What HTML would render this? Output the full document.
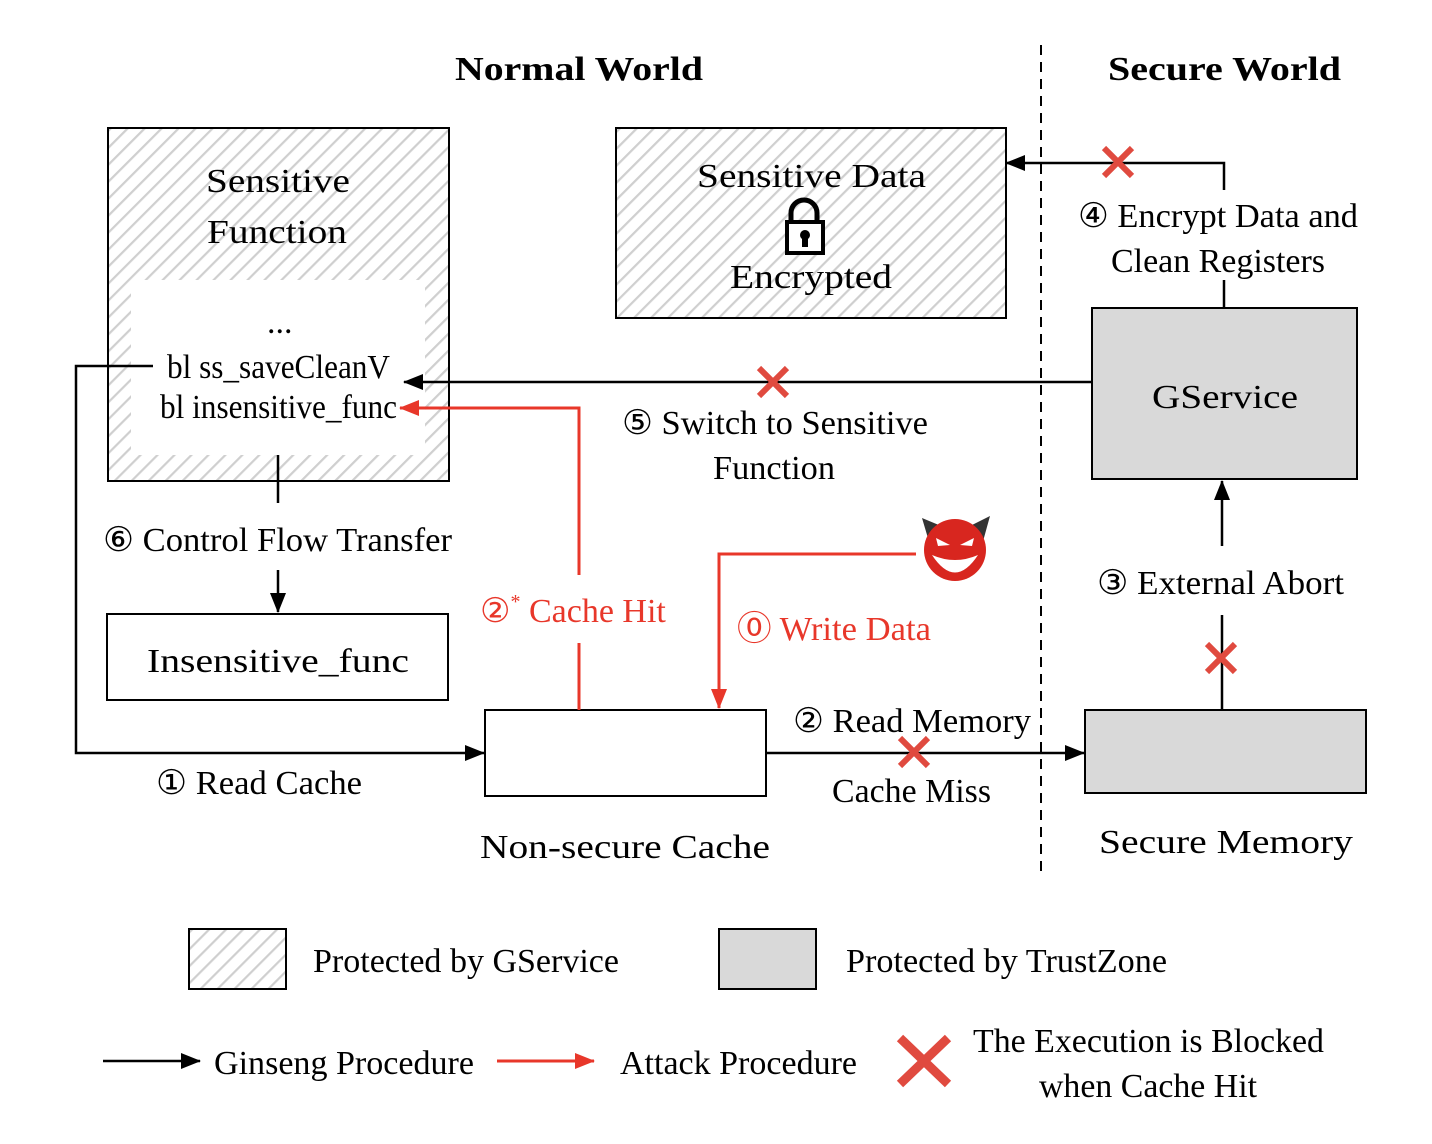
<!DOCTYPE html>
<html><head><meta charset="utf-8"><style>body{margin:0;background:#fff}svg{display:block}text{font-family:"Liberation Serif","DejaVu Serif",serif;font-size:34px}</style></head><body>
<svg width="1432" height="1144" viewBox="0 0 1432 1144" xmlns="http://www.w3.org/2000/svg">
<defs>
<pattern id="h" width="12" height="12" patternUnits="userSpaceOnUse" patternTransform="rotate(45)">
<rect width="12" height="12" fill="#fff"/><rect x="0" y="0" width="2.2" height="12" fill="#cfcfcf"/></pattern>
<marker id="abig" markerWidth="20" markerHeight="20" refX="19" refY="10" orient="auto" markerUnits="userSpaceOnUse" viewBox="0 0 20 20"><path d="M0,2 L20,10 L0,18z" fill="#000"/></marker>
<marker id="arbig" markerWidth="20" markerHeight="20" refX="19" refY="10" orient="auto" markerUnits="userSpaceOnUse" viewBox="0 0 20 20"><path d="M0,2 L20,10 L0,18z" fill="#e8372a"/></marker>
<g id="x"><path d="M-14,-14 L14,14 M14,-14 L-14,14" stroke="#e04a3f" stroke-width="6"/></g>
</defs>
<g lengthAdjust="spacingAndGlyphs">
<text x="455" y="80" font-weight="bold" font-size="40" textLength="248" lengthAdjust="spacingAndGlyphs">Normal World</text>
<text x="1108" y="80" font-weight="bold" font-size="40" textLength="233" lengthAdjust="spacingAndGlyphs">Secure World</text>
</g>
<line x1="1041" y1="45" x2="1041" y2="872" stroke="#000" stroke-width="2" stroke-dasharray="10,7"/>

<rect x="108" y="128" width="341" height="353" fill="url(#h)" stroke="#000" stroke-width="2"/>
<rect x="131" y="280" width="294" height="175" fill="#fff"/>
<text x="206" y="192" font-size="42" textLength="144" lengthAdjust="spacingAndGlyphs">Sensitive</text>
<text x="207" y="243" font-size="42" textLength="140" lengthAdjust="spacingAndGlyphs">Function</text>
<text x="267" y="333" font-size="28">...</text>
<text x="167" y="378" font-size="32" textLength="223" lengthAdjust="spacingAndGlyphs">bl ss_saveCleanV</text>
<text x="160" y="418" font-size="32" textLength="237" lengthAdjust="spacingAndGlyphs">bl insensitive_func</text>

<rect x="616" y="128" width="390" height="190" fill="url(#h)" stroke="#000" stroke-width="2"/>
<text x="697" y="187" font-size="42" textLength="229" lengthAdjust="spacingAndGlyphs">Sensitive Data</text>
<path d="M791,222 v-9 a13,13 0 0 1 26,0 v9" fill="none" stroke="#000" stroke-width="5"/>
<rect x="785" y="220" width="40" height="35" fill="#000"/>
<rect x="789" y="224" width="32" height="27" fill="#fff"/>
<circle cx="805" cy="235" r="5" fill="#000"/><rect x="802" y="236" width="6" height="11" fill="#000"/>
<text x="730" y="288" font-size="42" textLength="162" lengthAdjust="spacingAndGlyphs">Encrypted</text>

<rect x="1092" y="308" width="265" height="171" fill="#d9d9d9" stroke="#000" stroke-width="2"/>
<text x="1152" y="408" font-size="44" textLength="146" lengthAdjust="spacingAndGlyphs">GService</text>
<text x="1078" y="227" textLength="280" lengthAdjust="spacingAndGlyphs">④ Encrypt Data and</text>
<text x="1111" y="272" textLength="214" lengthAdjust="spacingAndGlyphs">Clean Registers</text>
<polyline points="1224,308 1224,280" fill="none" stroke="#000" stroke-width="2.5"/>
<polyline points="1224,190 1224,163 1006,163" fill="none" stroke="#000" stroke-width="2.5" marker-end="url(#abig)"/>
<use href="#x" x="1118" y="162"/>

<line x1="1092" y1="382" x2="404" y2="382" stroke="#000" stroke-width="2.5" marker-end="url(#abig)"/>
<use href="#x" x="773" y="382"/>
<text x="622" y="434" textLength="306" lengthAdjust="spacingAndGlyphs">⑤ Switch to Sensitive</text>
<text x="713" y="479" textLength="122" lengthAdjust="spacingAndGlyphs">Function</text>

<line x1="278" y1="455" x2="278" y2="503" stroke="#000" stroke-width="2.5"/>
<text x="103" y="551" textLength="349" lengthAdjust="spacingAndGlyphs">⑥ Control Flow Transfer</text>
<line x1="278" y1="570" x2="278" y2="612" stroke="#000" stroke-width="2.5" marker-end="url(#abig)"/>
<rect x="107" y="614" width="341" height="86" fill="#fff" stroke="#000" stroke-width="2"/>
<text x="147" y="672" font-size="44" textLength="262" lengthAdjust="spacingAndGlyphs">Insensitive_func</text>

<polyline points="153,366 76,366 76,753 484,753" fill="none" stroke="#000" stroke-width="2.5" marker-end="url(#abig)"/>
<text x="156" y="794" textLength="206" lengthAdjust="spacingAndGlyphs">① Read Cache</text>

<rect x="485" y="710" width="281" height="86" fill="#fff" stroke="#000" stroke-width="2"/>
<text x="480" y="858" font-size="44" textLength="290" lengthAdjust="spacingAndGlyphs">Non-secure Cache</text>

<polyline points="579,710 579,643" fill="none" stroke="#e8372a" stroke-width="3"/>
<polyline points="579,575 579,408 400,408" fill="none" stroke="#e8372a" stroke-width="3" marker-end="url(#arbig)"/>
<text x="480" y="622" fill="#e8372a">②<tspan font-size="20" dy="-14">*</tspan><tspan dy="14"> Cache Hit</tspan></text>

<polyline points="916,554 719,554 719,708" fill="none" stroke="#e8372a" stroke-width="3" marker-end="url(#arbig)"/>
<text x="737" y="640" fill="#e8372a" textLength="194" lengthAdjust="spacingAndGlyphs">⓪ Write Data</text>
<path d="M922,518 L946,528 L930,545z" fill="#333"/>
<path d="M990,516 L966,528 L982,545z" fill="#333"/>
<circle cx="955" cy="550" r="31" fill="#d8261f"/>
<path d="M932,555 Q955,590 978,555 Q955,565 932,555z" fill="#fff"/>
<path d="M936,538 L950,545 L938,546z M974,538 L960,545 L972,546z" fill="#fff"/>

<line x1="766" y1="753" x2="1084" y2="753" stroke="#000" stroke-width="2.5" marker-end="url(#abig)"/>
<use href="#x" x="914" y="752"/>
<text x="793" y="732" textLength="238" lengthAdjust="spacingAndGlyphs">② Read Memory</text>
<text x="832" y="802" textLength="159" lengthAdjust="spacingAndGlyphs">Cache Miss</text>

<rect x="1085" y="710" width="281" height="83" fill="#d9d9d9" stroke="#000" stroke-width="2"/>
<text x="1099" y="853" font-size="44" textLength="254" lengthAdjust="spacingAndGlyphs">Secure Memory</text>
<line x1="1222" y1="710" x2="1222" y2="615" stroke="#000" stroke-width="2.5"/>
<use href="#x" x="1221" y="658"/>
<text x="1097" y="594" textLength="247" lengthAdjust="spacingAndGlyphs">③ External Abort</text>
<line x1="1222" y1="546" x2="1222" y2="481" stroke="#000" stroke-width="2.5" marker-end="url(#abig)"/>

<rect x="189" y="929" width="97" height="60" fill="url(#h)" stroke="#000" stroke-width="2"/>
<text x="313" y="972" textLength="306" lengthAdjust="spacingAndGlyphs">Protected by GService</text>
<rect x="719" y="929" width="97" height="60" fill="#d9d9d9" stroke="#000" stroke-width="2"/>
<text x="846" y="972" textLength="321" lengthAdjust="spacingAndGlyphs">Protected by TrustZone</text>
<line x1="103" y1="1061" x2="200" y2="1061" stroke="#000" stroke-width="2.5" marker-end="url(#abig)"/>
<text x="214" y="1074" textLength="260" lengthAdjust="spacingAndGlyphs">Ginseng Procedure</text>
<line x1="497" y1="1061" x2="594" y2="1061" stroke="#e8372a" stroke-width="3" marker-end="url(#arbig)"/>
<text x="620" y="1074" textLength="237" lengthAdjust="spacingAndGlyphs">Attack Procedure</text>
<path d="M900,1038 L948,1084 M948,1038 L900,1084" stroke="#e04a3f" stroke-width="9"/>
<text x="973" y="1052" textLength="351" lengthAdjust="spacingAndGlyphs">The Execution is Blocked</text>
<text x="1039" y="1097" textLength="218" lengthAdjust="spacingAndGlyphs">when Cache Hit</text>
</svg>
</body></html>
